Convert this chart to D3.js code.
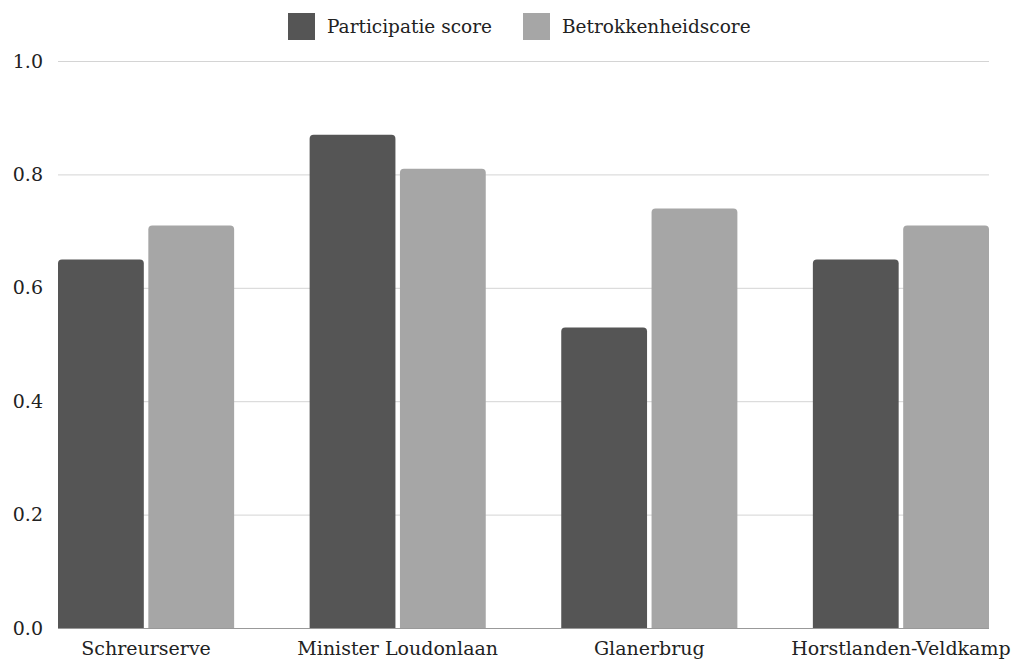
<!DOCTYPE html>
<html>
<head>
<meta charset="utf-8">
<script src="https://cdn.jsdelivr.net/npm/d3@7"></script>
<style>
  body { margin: 0; background: #fff; }
</style>
</head>
<body>
<svg id="chart" width="1017" height="661"></svg>
<script>
var categories = ["Schreurserve", "Minister Loudonlaan", "Glanerbrug", "Horstlanden-Veldkamp"];
var seriesNames = ["Participatie score", "Betrokkenheidscore"];
var participatie = [0.65, 0.87, 0.53, 0.65];
var betrokkenheid = [0.71, 0.81, 0.74, 0.71];
var yTicks = [0, 0.2, 0.4, 0.6, 0.8, 1.0];
var colors = ["#555555", "#a6a6a6"];

var svg = d3.select("#chart");
var mLeft = 58, mRight = 989, mTop = 61, mBottom = 628;
var font = "'DejaVu Serif', serif";
var fontSize = 19;

var x0 = d3.scaleBand().domain(categories).range([mLeft, mRight]).paddingInner(0.3).paddingOuter(0);
var x1 = d3.scaleBand().domain(seriesNames).range([0, x0.bandwidth()]).paddingInner(0.05);
var y = d3.scaleLinear().domain([0, 1]).range([mBottom, mTop]);

// gridlines + y labels
var yAxis = d3.axisLeft(y).tickValues(yTicks).tickFormat(d3.format(".1f"))
  .tickSize(-(mRight - mLeft)).tickPadding(15);
var gy = svg.append("g").attr("transform", "translate(" + mLeft + ",0)").call(yAxis);
gy.select(".domain").remove();
gy.attr("font-family", font).attr("font-size", fontSize);
gy.selectAll(".tick line").attr("stroke", "#d4d4d4").attr("stroke-width", 1);
gy.selectAll(".tick text").attr("fill", "#222");

// bars
var rows = categories.map(function (c, i) {
  return { cat: c, vals: [participatie[i], betrokkenheid[i]] };
});
var r = 4;
function topRounded(x, yTop, w, h) {
  return "M" + x + "," + (yTop + h) + "V" + (yTop + r) +
    "Q" + x + "," + yTop + " " + (x + r) + "," + yTop +
    "H" + (x + w - r) + "Q" + (x + w) + "," + yTop + " " + (x + w) + "," + (yTop + r) +
    "V" + (yTop + h) + "Z";
}
var groups = svg.append("g").selectAll("g").data(rows).enter().append("g")
  .attr("transform", function (d) { return "translate(" + x0(d.cat) + ",0)"; });
groups.selectAll("path").data(function (d) {
  return d.vals.map(function (v, i) { return { name: seriesNames[i], v: v, i: i }; });
}).enter().append("path")
  .attr("fill", function (d) { return colors[d.i]; })
  .attr("d", function (d) {
    return topRounded(x1(d.name), y(d.v), x1.bandwidth(), y(0) - y(d.v));
  });

// baseline
svg.append("line").attr("x1", mLeft).attr("x2", mRight).attr("y1", mBottom + 0.5).attr("y2", mBottom + 0.5)
  .attr("stroke", "#999").attr("stroke-width", 1.2);

// x labels
var xAxis = d3.axisBottom(x0).tickSize(0).tickPadding(14);
var gx = svg.append("g").attr("transform", "translate(0," + mBottom + ")").call(xAxis);
gx.select(".domain").remove();
gx.attr("font-family", font).attr("font-size", fontSize);
gx.selectAll(".tick text").attr("fill", "#222");

// legend
var legendX = [288, 523];
var lg = svg.append("g").attr("font-family", font).attr("font-size", 18.5)
  .selectAll("g").data(seriesNames).enter().append("g")
  .attr("transform", function (d, i) { return "translate(" + legendX[i] + ",13)"; });
lg.append("rect").attr("width", 27).attr("height", 27).attr("fill", function (d, i) { return colors[i]; });
lg.append("text").attr("x", 39).attr("y", 14).attr("dy", "0.35em").attr("fill", "#222")
  .text(function (d) { return d; });
</script>
</body>
</html>
